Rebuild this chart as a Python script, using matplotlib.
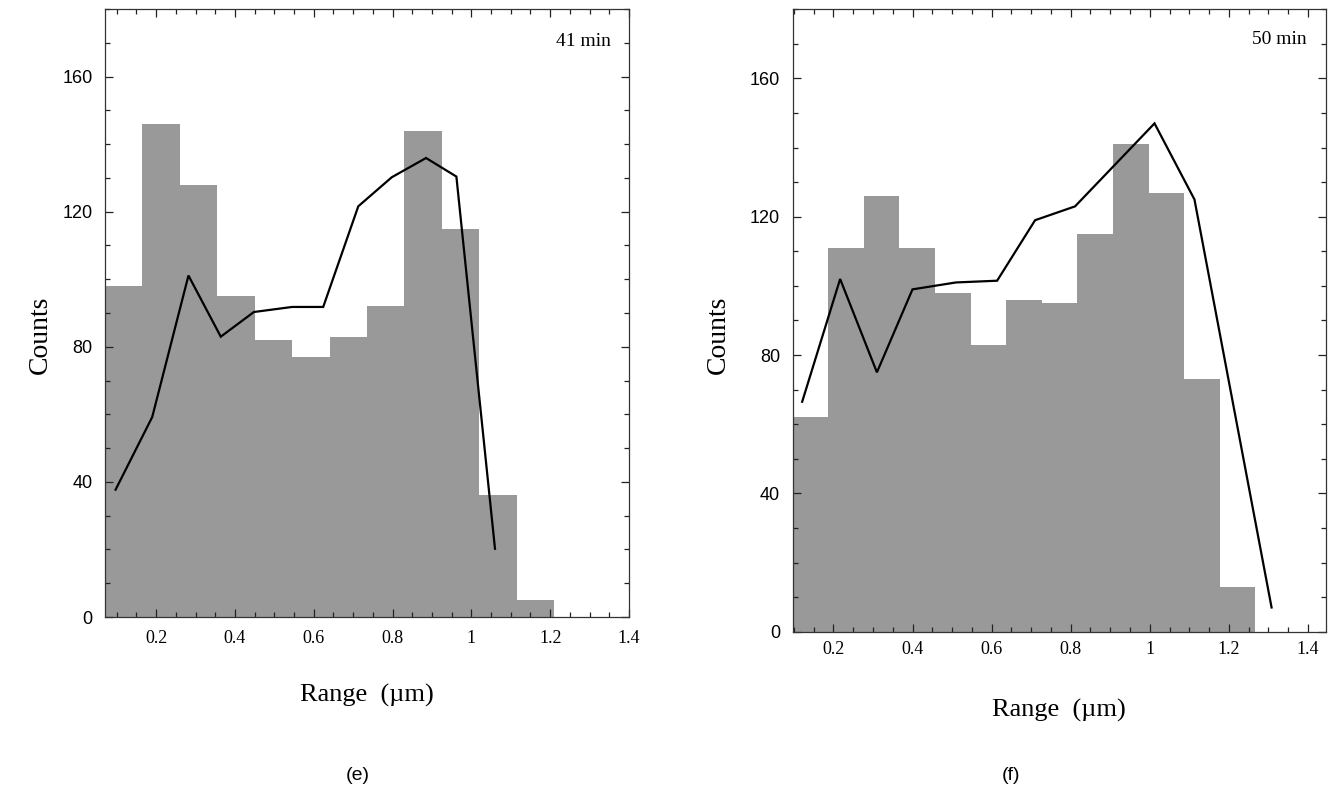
import matplotlib
matplotlib.use("Agg")
import matplotlib.pyplot as plt
from matplotlib.ticker import MultipleLocator, FuncFormatter

# ---- panel (e): 41 min ----
edges_e = [0.070, 0.165, 0.260, 0.355, 0.450, 0.545, 0.640, 0.735,
           0.830, 0.925, 1.020, 1.115, 1.210]
counts_e = [98, 146, 128, 95, 82, 77, 83, 92, 144, 115, 36, 5]
curve_x_e = [0.097, 0.190, 0.282, 0.364, 0.448, 0.545, 0.624, 0.713,
             0.798, 0.885, 0.962, 1.060]
curve_y_e = [37.7, 59.2, 101.1, 83.0, 90.3, 91.8, 91.8, 121.6,
             130.2, 135.9, 130.4, 20.2]

# ---- panel (f): 50 min ----
edges_f = [0.097, 0.187, 0.277, 0.367, 0.457, 0.547, 0.637, 0.727,
           0.817, 0.907, 0.997, 1.087, 1.177, 1.267]
counts_f = [62, 111, 126, 111, 98, 83, 96, 95, 115, 141, 127, 73, 13]
curve_x_f = [0.121, 0.217, 0.310, 0.400, 0.510, 0.614, 0.710, 0.811,
             1.012, 1.113, 1.308]
curve_y_f = [66.5, 102.0, 75.0, 99.0, 101.0, 101.5, 119.0, 123.0,
             147.0, 125.0, 7.0]

x_ticks = [0.2, 0.4, 0.6, 0.8, 1.0, 1.2, 1.4]
y_ticks = [0, 40, 80, 120, 160]

SERIF = ["Liberation Serif", "DejaVu Serif"]
SANS = ["Liberation Sans", "DejaVu Sans"]

fig = plt.figure(figsize=(13.3, 8.01), dpi=100)

panels = [
    dict(rect=[0.0789, 0.2297, 0.3940, 0.7590], edges=edges_e, counts=counts_e,
         cx=curve_x_e, cy=curve_y_e, xlim=(0.070, 1.40), tag="41 min",
         tag_y=0.946, letter="(e)", letter_x=0.269, xlab_y=0.132,
         ylab_x=0.030, xpad=9),
    dict(rect=[0.5960, 0.2114, 0.4008, 0.7770], edges=edges_f, counts=counts_f,
         cx=curve_x_f, cy=curve_y_f, xlim=(0.097, 1.445), tag="50 min",
         tag_y=0.951, letter="(f)", letter_x=0.760, xlab_y=0.113,
         ylab_x=0.540, xpad=7),
]

for p in panels:
    ax = fig.add_axes(p["rect"])
    lefts = p["edges"][:-1]
    widths = [b - a for a, b in zip(p["edges"][:-1], p["edges"][1:])]
    ax.bar(lefts, p["counts"], width=widths, align="edge",
           color="#999999", edgecolor="none", linewidth=0, zorder=1)
    ax.plot(p["cx"], p["cy"], color="black", linewidth=1.6, zorder=3,
            solid_joinstyle="miter")

    ax.set_xlim(*p["xlim"])
    ax.set_ylim(0, 180)
    ax.set_xticks(x_ticks)
    ax.set_yticks(y_ticks)
    ax.xaxis.set_minor_locator(MultipleLocator(0.05))
    ax.yaxis.set_minor_locator(MultipleLocator(10))
    ax.xaxis.set_major_formatter(FuncFormatter(lambda v, pos: f"{v:g}"))

    ax.tick_params(which="both", direction="in", top=True, right=True,
                   width=0.9, color="#222222")
    ax.tick_params(which="major", length=6)
    ax.tick_params(which="minor", length=3.5)
    ax.tick_params(axis="x", which="major", pad=p["xpad"])
    ax.tick_params(axis="y", which="major", pad=9)
    for lab in ax.get_xticklabels():
        lab.set_fontfamily(SERIF)
        lab.set_fontsize(13)
    for lab in ax.get_yticklabels():
        lab.set_fontfamily(SANS)
        lab.set_fontsize(13)

    for sp in ax.spines.values():
        sp.set_linewidth(0.9)
        sp.set_color("#333333")
        sp.set_zorder(4)

    ax.text(0.965, p["tag_y"], p["tag"], transform=ax.transAxes, ha="right",
            va="center", fontsize=14, family=SERIF)

    x0, y0, w, h = p["rect"]
    fig.text(x0 + w / 2, p["xlab_y"], "Range  (\u00b5m)", ha="center",
             va="center", fontsize=19, family=SERIF)
    fig.text(p["ylab_x"], 0.582, "Counts", ha="center", va="center",
             rotation=90, fontsize=20, family=SERIF)
    fig.text(p["letter_x"], 0.032, p["letter"], ha="center", va="center",
             fontsize=14, family=SANS)

fig.savefig("out.png", dpi=100, facecolor="white")
